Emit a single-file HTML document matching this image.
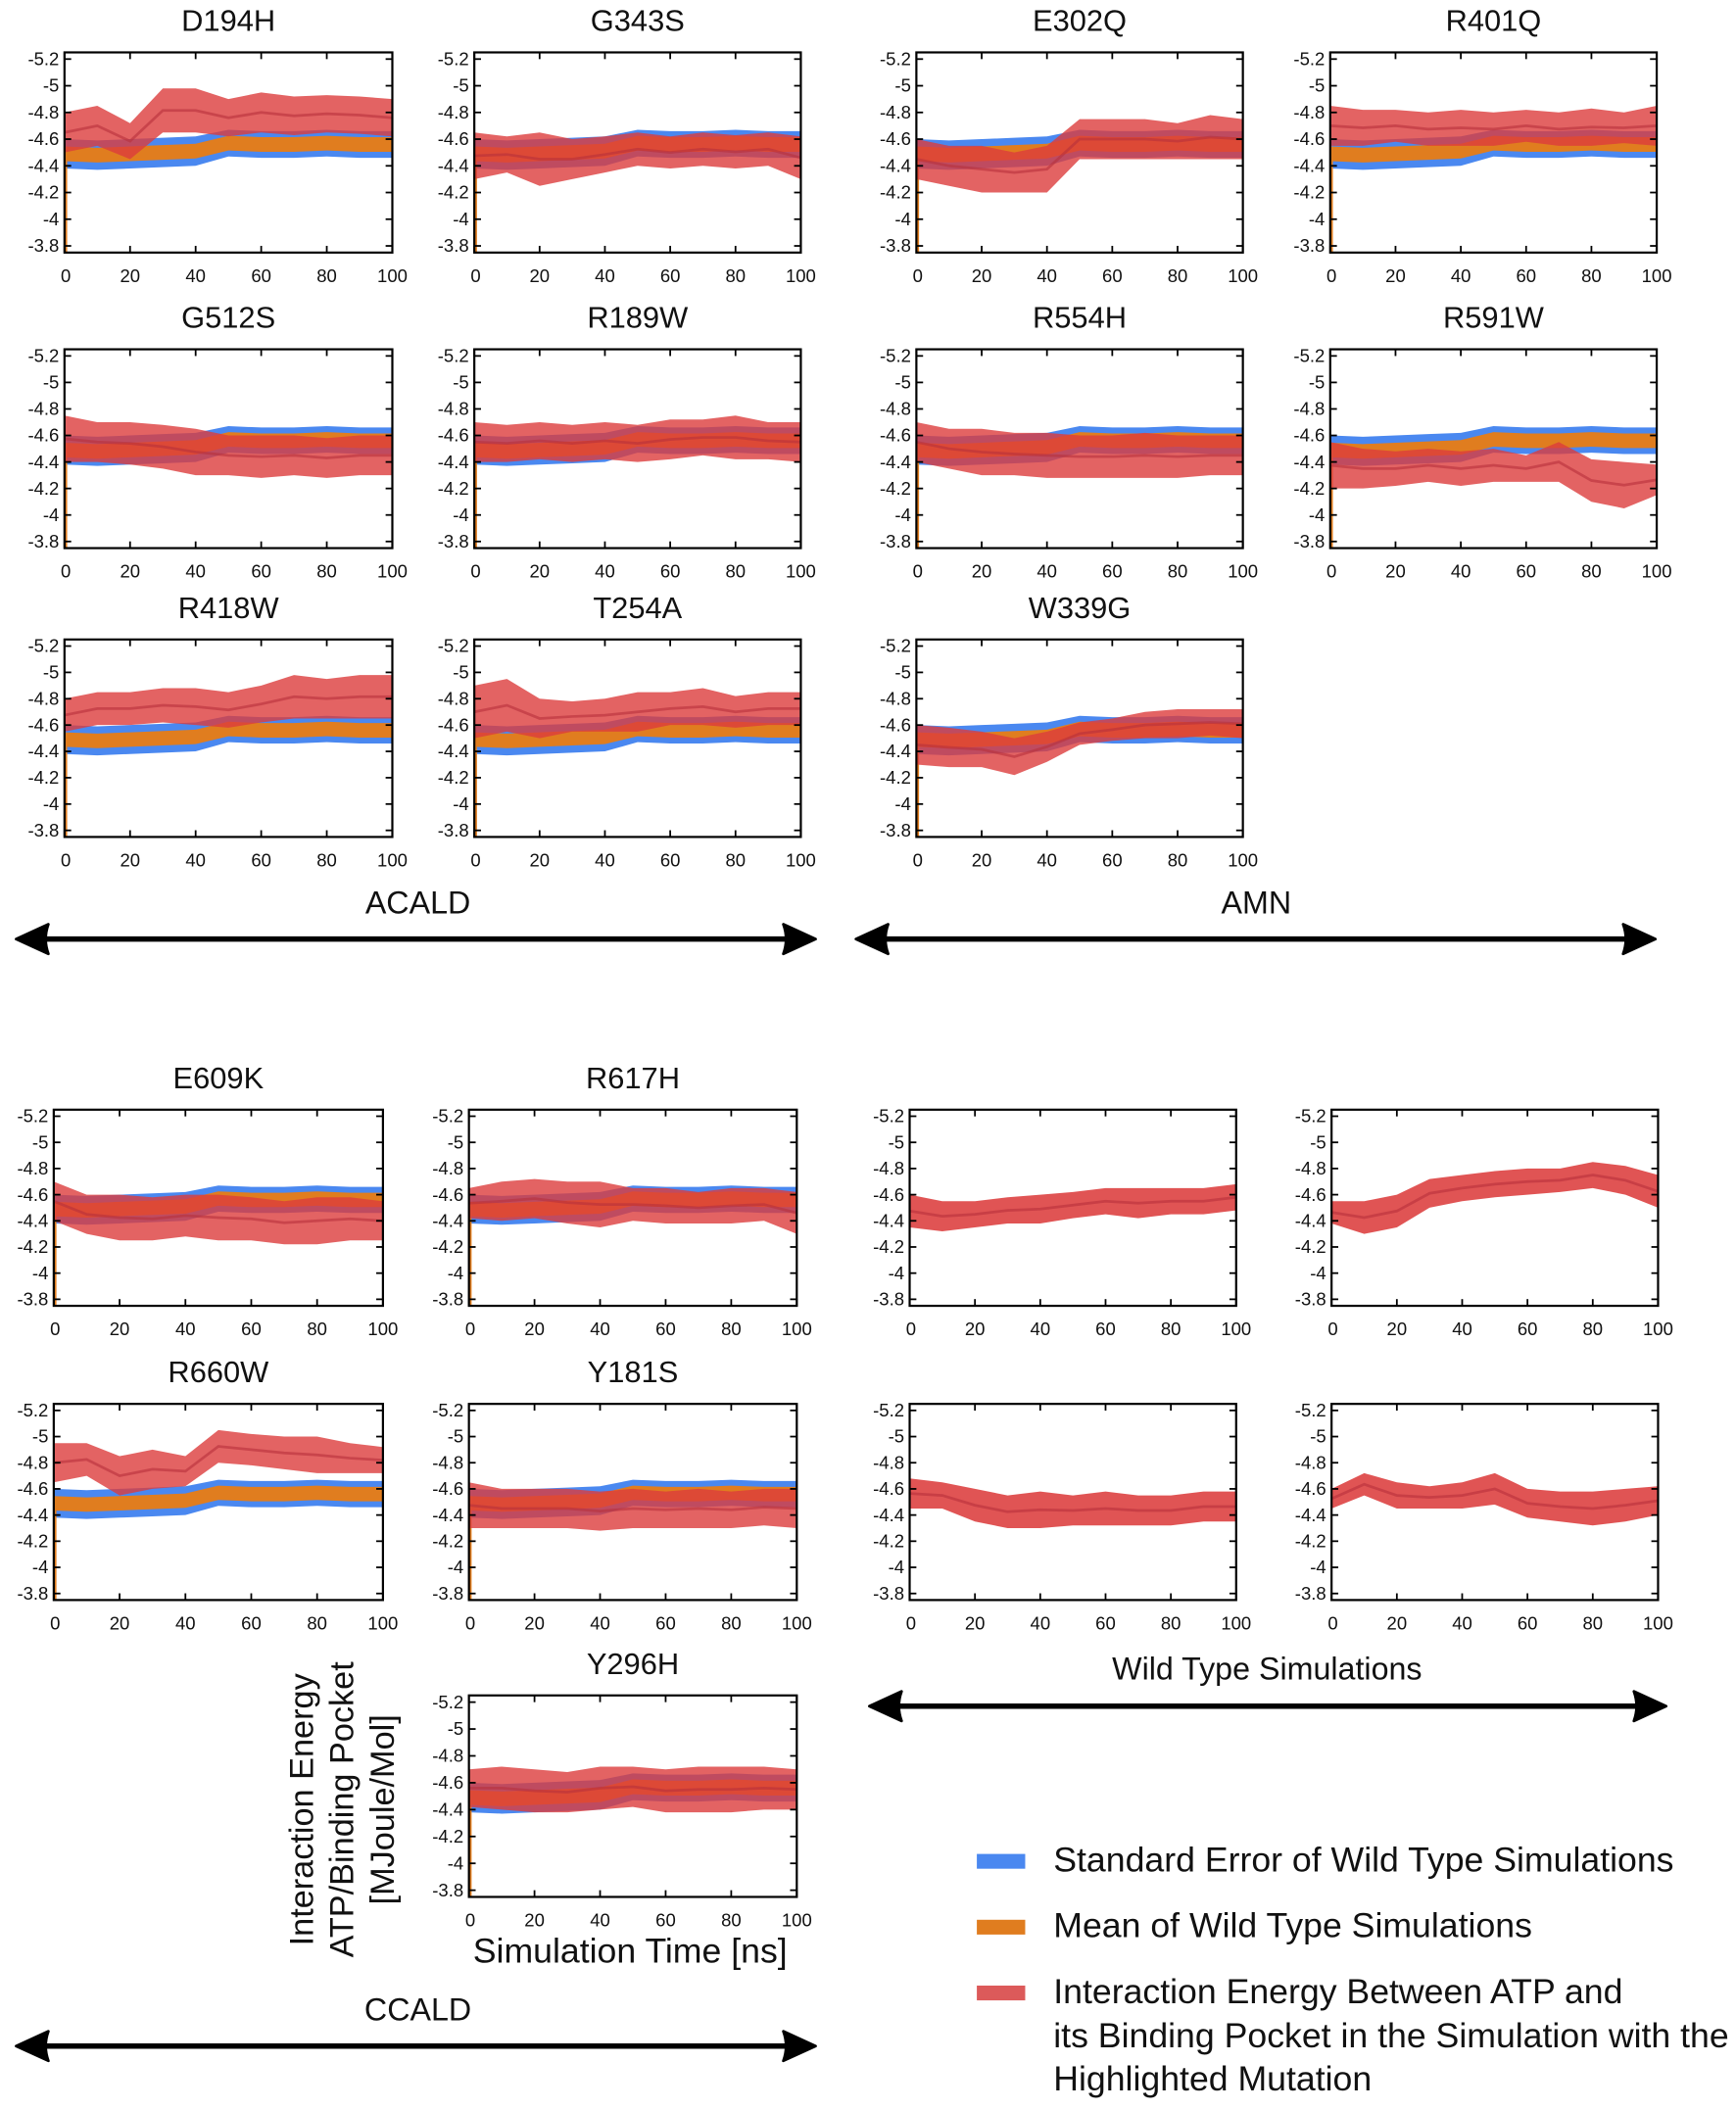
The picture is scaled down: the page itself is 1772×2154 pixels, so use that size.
<!DOCTYPE html>
<html><head><meta charset="utf-8"><style>
html,body{margin:0;padding:0;background:#fff;}
svg{display:block;}
text{font-family:"Liberation Sans Narrow","Liberation Sans",sans-serif;fill:#111;}
.t{font-family:"Liberation Sans",sans-serif;font-size:22.5px;}
.tk{font-size:13.5px;}
</style></head><body>
<svg id="fig" width="1772" height="2154" viewBox="0 0 1292 1570.6" preserveAspectRatio="none" xmlns="http://www.w3.org/2000/svg">
</svg>
<script>
// shared wild-type data (x every 10 ns)
const xs = [0,10,20,30,40,50,60,70,80,90,100];
const wtMean = [-4.49,-4.48,-4.49,-4.50,-4.51,-4.57,-4.56,-4.56,-4.57,-4.56,-4.56];
const wtSE = [0.11,0.11,0.11,0.11,0.11,0.1,0.1,0.1,0.1,0.1,0.1];
const yTicks = [-5.2,-5,-4.8,-4.6,-4.4,-4.2,-4,-3.8];
const yTickLabels = ["-5.2","-5","-4.8","-4.6","-4.4","-4.2","-4","-3.8"];
const xTicks = [0,20,40,60,80,100];
const names = ["D194H","G343S","E302Q","R401Q","G512S","R189W","R554H","R591W","R418W","T254A","W339G","E609K","R617H","R660W","Y181S","Y296H","","","",""];
const redTop = [
[-4.8,-4.85,-4.72,-4.98,-4.98,-4.9,-4.95,-4.92,-4.93,-4.92,-4.9],
[-4.65,-4.62,-4.65,-4.6,-4.62,-4.65,-4.62,-4.65,-4.63,-4.65,-4.62],
[-4.6,-4.55,-4.55,-4.5,-4.55,-4.75,-4.75,-4.75,-4.72,-4.78,-4.75],
[-4.85,-4.82,-4.82,-4.8,-4.82,-4.8,-4.82,-4.8,-4.83,-4.8,-4.85],
[-4.75,-4.7,-4.7,-4.68,-4.65,-4.6,-4.6,-4.6,-4.58,-4.6,-4.6],
[-4.7,-4.68,-4.7,-4.68,-4.7,-4.68,-4.72,-4.72,-4.75,-4.7,-4.7],
[-4.7,-4.65,-4.65,-4.62,-4.62,-4.6,-4.6,-4.62,-4.6,-4.6,-4.6],
[-4.55,-4.5,-4.48,-4.5,-4.48,-4.5,-4.45,-4.55,-4.42,-4.4,-4.38],
[-4.8,-4.85,-4.85,-4.88,-4.88,-4.85,-4.9,-4.98,-4.95,-4.98,-4.98],
[-4.9,-4.95,-4.8,-4.78,-4.8,-4.85,-4.85,-4.88,-4.82,-4.85,-4.85],
[-4.6,-4.58,-4.55,-4.5,-4.55,-4.62,-4.65,-4.7,-4.72,-4.72,-4.72],
[-4.7,-4.6,-4.6,-4.58,-4.6,-4.6,-4.58,-4.55,-4.58,-4.58,-4.55],
[-4.65,-4.7,-4.72,-4.7,-4.7,-4.65,-4.65,-4.62,-4.65,-4.65,-4.62],
[-4.95,-4.95,-4.85,-4.9,-4.85,-5.05,-5.02,-5.0,-5.0,-4.95,-4.92],
[-4.65,-4.6,-4.6,-4.6,-4.58,-4.6,-4.58,-4.6,-4.58,-4.6,-4.6],
[-4.7,-4.72,-4.7,-4.68,-4.72,-4.72,-4.7,-4.72,-4.72,-4.72,-4.7],
[-4.6,-4.55,-4.55,-4.58,-4.6,-4.62,-4.65,-4.65,-4.65,-4.65,-4.68],
[-4.55,-4.55,-4.6,-4.72,-4.75,-4.78,-4.8,-4.8,-4.85,-4.82,-4.75],
[-4.68,-4.65,-4.6,-4.55,-4.58,-4.55,-4.58,-4.55,-4.55,-4.58,-4.58],
[-4.6,-4.72,-4.65,-4.62,-4.65,-4.72,-4.6,-4.58,-4.58,-4.6,-4.62]];
const redBot = [
[-4.5,-4.55,-4.45,-4.65,-4.65,-4.62,-4.65,-4.63,-4.65,-4.64,-4.62],
[-4.3,-4.35,-4.25,-4.3,-4.35,-4.4,-4.38,-4.4,-4.38,-4.4,-4.3],
[-4.3,-4.25,-4.2,-4.2,-4.2,-4.45,-4.45,-4.45,-4.45,-4.45,-4.45],
[-4.55,-4.55,-4.58,-4.55,-4.55,-4.55,-4.58,-4.55,-4.55,-4.57,-4.55],
[-4.4,-4.4,-4.38,-4.35,-4.3,-4.3,-4.28,-4.3,-4.28,-4.3,-4.3],
[-4.4,-4.4,-4.42,-4.4,-4.42,-4.4,-4.42,-4.45,-4.42,-4.42,-4.4],
[-4.4,-4.35,-4.3,-4.3,-4.28,-4.28,-4.28,-4.28,-4.28,-4.3,-4.3],
[-4.2,-4.2,-4.22,-4.25,-4.22,-4.25,-4.25,-4.25,-4.1,-4.05,-4.15],
[-4.55,-4.6,-4.6,-4.62,-4.6,-4.58,-4.62,-4.65,-4.65,-4.65,-4.65],
[-4.5,-4.55,-4.5,-4.55,-4.55,-4.55,-4.6,-4.6,-4.58,-4.6,-4.6],
[-4.3,-4.28,-4.28,-4.22,-4.32,-4.45,-4.48,-4.5,-4.5,-4.52,-4.5],
[-4.4,-4.3,-4.25,-4.25,-4.28,-4.25,-4.25,-4.22,-4.22,-4.25,-4.25],
[-4.42,-4.4,-4.42,-4.38,-4.35,-4.4,-4.38,-4.38,-4.38,-4.4,-4.3],
[-4.65,-4.7,-4.55,-4.6,-4.62,-4.8,-4.78,-4.75,-4.72,-4.72,-4.72],
[-4.3,-4.3,-4.3,-4.3,-4.28,-4.3,-4.3,-4.3,-4.3,-4.32,-4.3],
[-4.42,-4.4,-4.38,-4.38,-4.4,-4.42,-4.38,-4.38,-4.38,-4.4,-4.4],
[-4.35,-4.32,-4.35,-4.38,-4.38,-4.42,-4.45,-4.42,-4.45,-4.45,-4.48],
[-4.38,-4.3,-4.35,-4.5,-4.55,-4.58,-4.6,-4.62,-4.65,-4.6,-4.5],
[-4.45,-4.45,-4.35,-4.3,-4.3,-4.32,-4.32,-4.32,-4.32,-4.35,-4.35],
[-4.45,-4.55,-4.45,-4.45,-4.45,-4.48,-4.38,-4.35,-4.32,-4.35,-4.4]];
const showWT = [1,1,1,1,1,1,1,1,1,1,1,1,1,1,1,1,0,0,0,0];

const boxes = [
[48,292,39,188],[353,596,39,188],[682,925,39,188],[990,1233,39,188],
[48,292,260,408],[353,596,260,408],[682,925,260,408],[990,1233,260,408],
[48,292,476,623],[353,596,476,623],[682,925,476,623],
[40,285,826,972],[349,593,826,972],[40,285,1045,1191],[349,593,1045,1191],[349,593,1262,1412],
[677,920,826,972],[991,1234,826,972],[677,920,1045,1191],[991,1234,1045,1191]];

const NS="http://www.w3.org/2000/svg";
const svg=document.getElementById('fig');
function el(tag,attrs,parent){const e=document.createElementNS(NS,tag);for(const k in attrs)e.setAttribute(k,attrs[k]);(parent||svg).appendChild(e);return e;}

boxes.forEach((b,i)=>{
  const [x0,x1,y0,y1]=b;
  const g=el('g',{});
  
  
  const X=v=>x0+(v/100)*(x1-x0);
  const Y=v=>y0+((v+5.25)/1.5)*(y1-y0);
  const cp=el('clipPath',{id:'c'+i},g);el('rect',{x:x0,y:y0,width:x1-x0,height:y1-y0},cp);
  const dg=el('g',{'clip-path':'url(#c'+i+')'},g);
  if(showWT[i]){
    let up=xs.map((x,k)=>X(x)+','+Y(wtMean[k]-wtSE[k])).join(' ');
    let dn=xs.slice().reverse().map((x,j)=>{const k=xs.length-1-j;return X(x)+','+Y(wtMean[k]+wtSE[k]);}).join(' ');
    const se=el('polygon',{points:up+' '+dn,fill:'#4a88f0'},dg);
    
    
    let mu=xs.map((x,k)=>X(x)+','+Y(wtMean[k]-0.055)).join(' ');
    let md=xs.slice().reverse().map((x,j)=>{const k=xs.length-1-j;return X(x)+','+Y(wtMean[k]+0.055);}).join(' ');
    const mn=el('polygon',{points:mu+' '+md,fill:'#e07d1f'},dg);
    
    
    el('line',{x1:x0+1,x2:x0+1,y1:Y(wtMean[0]),y2:y1,stroke:'#e07d1f','stroke-width':2},dg);
  }
  let ru=xs.map((x,k)=>X(x)+','+Y(redTop[i][k])).join(' ');
  let rd=xs.slice().reverse().map((x,j)=>{const k=xs.length-1-j;return X(x)+','+Y(redBot[i][k]);}).join(' ');
  const rp=el('polygon',{points:ru+' '+rd,fill:'#dc3c3c','fill-opacity':showWT[i]?0.8:0.88},dg);
  
  
  const rl=el('polyline',{points:xs.map((x,k)=>X(x)+','+Y((redTop[i][k]+redBot[i][k])/2)).join(' '),fill:'none',stroke:'#b8303c','stroke-width':2,'stroke-opacity':0.6},dg);
  
  
  const fr=el('rect',{x:x0,y:y0,width:x1-x0,height:y1-y0,fill:'none',stroke:'#000','stroke-width':1.6},g);
  
  
  yTicks.forEach((t,k)=>{
    el('line',{x1:x0,x2:x0+5,y1:Y(t),y2:Y(t),stroke:'#000','stroke-width':1.3},g);
    el('line',{x1:x1-5,x2:x1,y1:Y(t),y2:Y(t),stroke:'#000','stroke-width':1.3},g);
    const tl=el('text',{x:x0-4,y:Y(t)+4.5,'text-anchor':'end',class:'tk'},g);
    tl.textContent=yTickLabels[k];
    
    
  });
  xTicks.forEach(t=>{
    el('line',{x1:X(t),x2:X(t),y1:y1,y2:y1-5,stroke:'#000','stroke-width':1.3},g);
    el('line',{x1:X(t),x2:X(t),y1:y0,y2:y0+5,stroke:'#000','stroke-width':1.3},g);
    const tl=el('text',{x:X(t)+ (t===0?1:0),y:y1+22,'text-anchor':'middle',class:'tk'},g);
    tl.textContent=String(t);
    
    
  });
  if(names[i]){
    const tt=el('text',{x:(x0+x1)/2,y:y0-16,'text-anchor':'middle',class:'t'},g);
    tt.textContent=names[i];
    
    
  }
});

// section labels + arrows
[["ACALD",311,680,12,607,699],["AMN",935,680,637,1232,699],["Wild Type Simulations",943,1250,647,1240,1270],["CCALD",311,1504,12,607,1523]].forEach(s=>{
  const t=el('text',{x:s[1],y:s[2],'text-anchor':'middle','font-size':23.5});
  t.style.fontFamily='"Liberation Sans",sans-serif';
  t.textContent=s[0];
  
  
  const ag=el('g',{});
  
  
  const L=s[3], R=s[4], y=s[5];
  el('line',{x1:L+15,x2:R-15,y1:y,y2:y,stroke:'#000','stroke-width':4},ag);
  el('path',{d:`M${L},${y} L${L+24},${y-11} Q${L+20},${y} ${L+24},${y+11} Z`,fill:'#000',stroke:'#000','stroke-width':2,'stroke-linejoin':'round'},ag);
  el('path',{d:`M${R},${y} L${R-24},${y-11} Q${R-20},${y} ${R-24},${y+11} Z`,fill:'#000',stroke:'#000','stroke-width':2,'stroke-linejoin':'round'},ag);
});

// axis titles
[["Interaction Energy",233],["ATP/Binding Pocket",263],["[MJoule/Mol]",293]].forEach(l=>{
  const ts=el('text',{x:0,y:0,transform:'translate('+l[1]+',1347) rotate(-90)','font-size':25,'text-anchor':'middle'});
  ts.style.fontFamily='"Liberation Sans",sans-serif';
  ts.textContent=l[0];
  
  
});
const xt=el('text',{x:469,y:1461,'text-anchor':'middle','font-size':26});
xt.textContent='Simulation Time [ns]';



// legend
[["#4a88f0",1385],["#e07d1f",1434],["#dc5a5a",1483]].forEach(l=>{
  const r=el('rect',{x:727,y:l[1]-5,width:36,height:11,fill:l[0]});
  
  
});
[["Standard Error of Wild Type Simulations",1393],["Mean of Wild Type Simulations",1442],["Interaction Energy Between ATP and",1491],["its Binding Pocket in the Simulation with the",1524],["Highlighted Mutation",1556]].forEach(l=>{
  const t=el('text',{x:784,y:l[1],'font-size':26});
  t.textContent=l[0];
  
  
});
</script>
</body></html>
